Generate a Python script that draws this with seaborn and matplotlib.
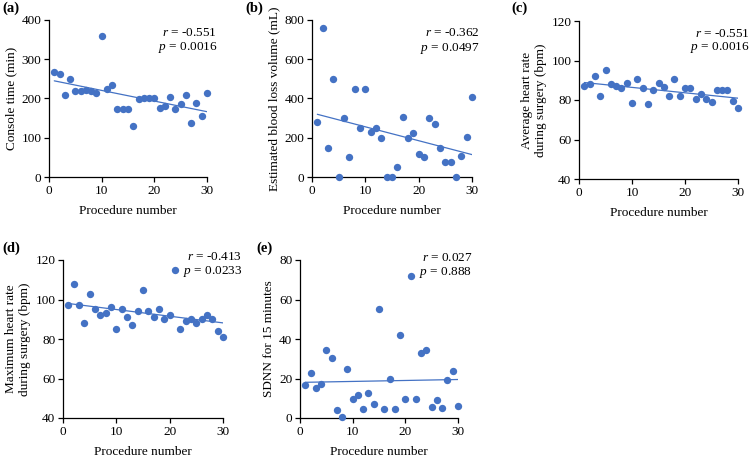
import matplotlib
matplotlib.use("Agg")
import matplotlib.pyplot as plt
import seaborn as sns

procedure = list(range(1, 31))

console_time = [268, 263, 209, 249, 219, 219, 221, 219, 213, 360,
                225, 235, 172, 174, 174, 130, 199, 200, 200, 200,
                175, 180, 203, 172, 187, 208, 138, 189, 155, 215]

blood_loss = [280, 760, 150, 500, 0, 300, 100, 450, 250, 450,
              230, 250, 200, 0, 0, 50, 305, 200, 225, 115,
              100, 300, 270, 150, 75, 75, 0, 105, 205, 410]

avg_hr = [87, 88, 92, 82, 95, 88, 87, 86, 88.5, 78.5,
          90.5, 86, 78, 85, 88.5, 86.5, 82, 90.5, 82, 86,
          86, 80.5, 83, 80.5, 79, 85, 85, 85, 79.5, 76]

max_hr = [97, 108, 97, 88, 103, 95, 92, 93, 96, 85,
          95, 91, 87, 94, 105, 94, 91, 95, 90, 92,
          115, 85, 89, 90, 88, 90, 92, 90, 84, 81]

sdnn = [16.5, 23, 15, 17, 34.5, 30.5, 4, 0.5, 25, 9.5,
        11.5, 4.5, 12.5, 7, 55, 4.5, 19.5, 4.5, 42, 9.5,
        72, 9.5, 33, 34.5, 5.5, 9, 5, 19, 24, 6]

panel_labels = ["(a)", "(b)", "(c)", "(d)", "(e)"]
series = [console_time, blood_loss, avg_hr, max_hr, sdnn]
ylabels = ["Console time (min)",
           "Estimated blood loss volume (mL)",
           "Average heart rate\nduring surgery (bpm)",
           "Maximum heart rate\nduring surgery (bpm)",
           "SDNN for 15 minutes"]
ylims = [(0, 400), (0, 800), (40, 120), (40, 120), (0, 80)]
yticks = [[0, 100, 200, 300, 400], [0, 200, 400, 600, 800],
          [40, 60, 80, 100, 120], [40, 60, 80, 100, 120], [0, 20, 40, 60, 80]]
r_vals = ["-0.551", "-0.362", "-0.551", "-0.413", "0.027"]
p_vals = ["0.0016", "0.0497", "0.0016", "0.0233", "0.888"]

# layout in pixels: axes box (left, top, right, bottom), panel label (x, y),
# stats text (right edge x frac, r y frac, p y frac)
boxes = [(49, 20, 207, 177), (312, 20, 472, 177), (579, 21, 738, 179),
         (63, 260, 223, 418), (300, 260, 458, 418)]
label_pos = [(2, 8), (245, 8), (511, 8), (2, 248), (256, 248)]
stat_pos = [(1.065, 0.915, 0.825), (1.05, 0.915, 0.82), (1.075, 0.92, 0.83),
            (1.12, 1.02, 0.925), (1.09, 1.01, 0.92)]

sns.set_style("ticks")
plt.rcParams['font.family'] = ['Liberation Serif', 'DejaVu Serif']
plt.rcParams['mathtext.fontset'] = 'custom'
plt.rcParams['mathtext.it'] = 'Liberation Serif:italic'
plt.rcParams['mathtext.rm'] = 'Liberation Serif'
plt.rcParams['text.color'] = 'black'
plt.rcParams['axes.labelcolor'] = 'black'
plt.rcParams['xtick.color'] = 'black'
plt.rcParams['ytick.color'] = 'black'

W, H = 751, 458
fig = plt.figure(figsize=(W / 100, H / 100), dpi=100)
blue = "#4472C4"
fs = 9.5

for i, vals in enumerate(series):
    l, t, rgt, b = boxes[i]
    ax = fig.add_axes([l / W, 1 - b / H, (rgt - l) / W, (b - t) / H])
    sns.regplot(x=procedure, y=vals, ax=ax, ci=None, truncate=True,
                scatter_kws={"s": 28, "color": blue, "alpha": 1, "clip_on": False,
                             "linewidths": 0, "zorder": 3},
                line_kws={"color": blue, "linewidth": 0.9})
    ax.set_xlim(0, 30)
    ax.set_ylim(*ylims[i])
    ax.set_xticks([0, 10, 20, 30])
    ax.set_yticks(yticks[i])
    ax.tick_params(labelsize=fs, length=3.5, width=0.9, colors="black", pad=2)
    for s in ["left", "bottom"]:
        ax.spines[s].set_linewidth(0.9)
        ax.spines[s].set_color("black")
    sns.despine(ax=ax)
    ax.set_xlabel("Procedure number", fontsize=fs, labelpad=6)
    ax.set_ylabel(ylabels[i], fontsize=fs, labelpad=3)
    sx, ry, py = stat_pos[i]
    ax.text(sx, ry, f"$r$ = {r_vals[i]}", transform=ax.transAxes, ha="right",
            va="center", fontsize=fs)
    ax.text(sx, py, f"$p$ = {p_vals[i]}", transform=ax.transAxes, ha="right",
            va="center", fontsize=fs)
    lx, ly = label_pos[i]
    fig.text(lx / W, 1 - ly / H, panel_labels[i], fontsize=10.5,
             fontweight="bold", ha="left", va="center")

fig.savefig("out.png", dpi=100)
